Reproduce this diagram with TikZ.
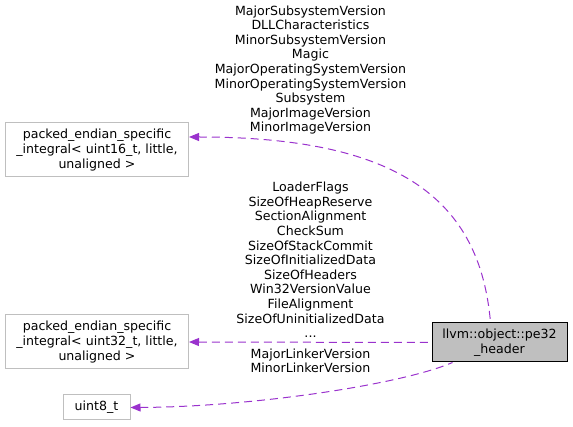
\documentclass[tikz,border=0pt]{standalone}
\usepackage{fontspec}
\setmainfont{DejaVu Sans}
\usepackage{tikz}
\usetikzlibrary{positioning, arrows.meta}
\definecolor{edgepurple}{HTML}{9A32CD}
\definecolor{boxgray}{HTML}{BFBFBF}
\definecolor{lightframe}{HTML}{BFBFBF}

\begin{document}
\begin{tikzpicture}[x=1pt,y=-1pt,
  every node/.style={font=\fontsize{12.6}{14.6}\selectfont,align=center,inner sep=0pt},
  classbox/.style={draw=lightframe,fill=white,line width=1pt},
  mainbox/.style={draw=black,fill=boxgray,line width=1pt},
  usage/.style={draw=edgepurple,line width=1pt,dash pattern=on 8pt off 5pt,{Triangle[length=10pt,width=8pt]}-}]
  \useasboundingbox(0,0)rectangle(573,427);
  \node[classbox,minimum width=183pt,minimum height=54pt](u16)at(97,150){packed\_endian\_specific\\\_integral< uint16\_t, little,\\unaligned >};
  \node[classbox,minimum width=183pt,minimum height=54pt](u32)at(97,342){packed\_endian\_specific\\\_integral< uint32\_t, little,\\unaligned >};
  \node[classbox,minimum width=67pt,minimum height=25pt](u8)at(96.5,407.5){uint8\_t};
  \node[mainbox,minimum width=135pt,minimum height=39pt](hdr)at(499.5,342.5){llvm::object::pe32\\\_header};
  \draw[usage]([yshift=13pt]u16.east)..controls(400,137)and(480,200)..([xshift=-9pt]hdr.north);
  \draw[usage](u32.east)--(hdr.west);
  \draw[usage](u8.east)..controls(250,407)and(400,385)..([xshift=-47pt]hdr.south);
  \node(lbla)at(310.5,70){MajorSubsystemVersion\\DLLCharacteristics\\MinorSubsystemVersion\\Magic\\MajorOperatingSystemVersion\\MinorOperatingSystemVersion\\Subsystem\\MajorImageVersion\\MinorImageVersion};
  \node(lblb)at(310.5,260){LoaderFlags\\SizeOfHeapReserve\\SectionAlignment\\CheckSum\\SizeOfStackCommit\\SizeOfInitializedData\\SizeOfHeaders\\Win32VersionValue\\FileAlignment\\SizeOfUninitializedData\\...};
  \node(lblc)at(310.5,361){MajorLinkerVersion\\MinorLinkerVersion};
\end{tikzpicture}
\end{document}
